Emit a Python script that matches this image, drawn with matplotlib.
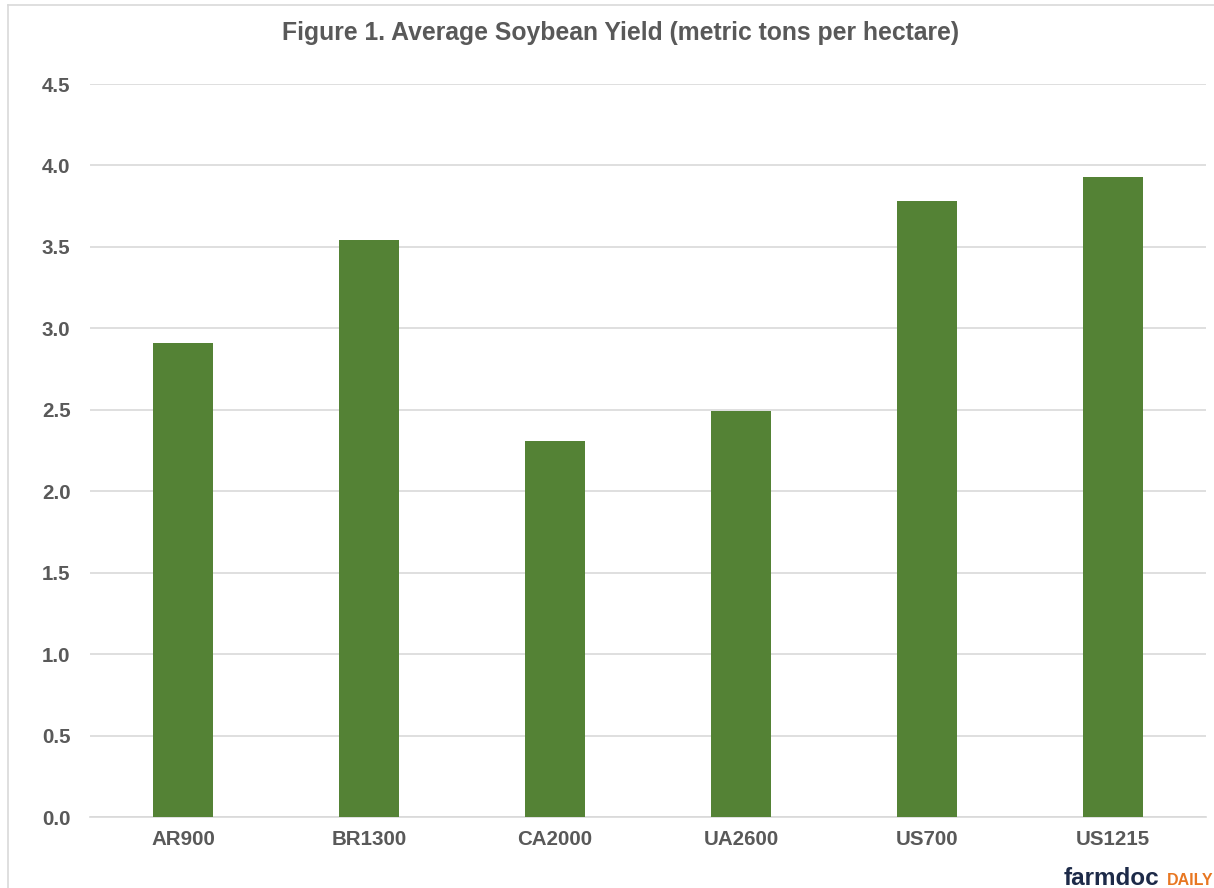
import numpy as np
import matplotlib
matplotlib.use("Agg")
from matplotlib import pyplot as plt

plt.rcParams['font.family'] = ['Liberation Sans', 'DejaVu Sans']

# data
sites = ["AR900", "BR1300", "CA2000", "UA2600", "US700", "US1215"]
yields = [2.91, 3.54, 2.31, 2.49, 3.78, 3.93]
yticks = [0.0, 0.5, 1.0, 1.5, 2.0, 2.5, 3.0, 3.5, 4.0, 4.5]

grey = "#595959"
green = "#548235"

fig = plt.figure(figsize=(12.14, 8.88), dpi=100)
ax = fig.add_axes([90 / 1214, 1 - 817 / 888, (1206 - 90) / 1214, (817 - 84) / 888])

x = np.arange(len(sites))
ax.bar(x, yields, width=0.32, color=green, zorder=3)

ax.set_xlim(-0.5, len(sites) - 0.5)
ax.set_ylim(0, 4.5)
ax.set_yticks(yticks)
ax.set_yticklabels(["%.1f" % t for t in yticks])
ax.set_xticks(x)
ax.set_xticklabels(sites)
ax.yaxis.grid(True, color="#d9d9d9", linewidth=1.2, zorder=0)
for s in ["top", "right", "left"]:
    ax.spines[s].set_visible(False)
ax.spines["bottom"].set_color("#d9d9d9")
ax.spines["bottom"].set_linewidth(1.2)
ax.tick_params(axis="both", length=0, labelsize=14.8, labelcolor=grey)
ax.tick_params(axis="y", pad=14)
ax.tick_params(axis="x", pad=9)
for lab in ax.get_xticklabels() + ax.get_yticklabels():
    lab.set_fontweight("bold")

fig.text(621 / 1214, 1 - 33 / 888, "Figure 1. Average Soybean Yield (metric tons per hectare)",
         ha="center", va="center", fontsize=17.8, fontweight="bold", color=grey)

# chart border lines (left and top)
fig.add_artist(plt.Line2D([8 / 1214, 8 / 1214], [0, 1 - 5 / 888], color="#d9d9d9", lw=1.2))
fig.add_artist(plt.Line2D([8 / 1214, 1], [1 - 5 / 888, 1 - 5 / 888], color="#d9d9d9", lw=1.2))

# farmdoc daily logo
fig.text(1064 / 1214, 1 - 878 / 888, "farmdoc", ha="left", va="center",
         fontsize=17.5, fontweight="bold", color="#1d2a48")
fig.text(1213 / 1214, 1 - 880 / 888, "DAILY", ha="right", va="center",
         fontsize=11.5, fontweight="bold", color="#e87722")

fig.savefig("out.png", dpi=100)
